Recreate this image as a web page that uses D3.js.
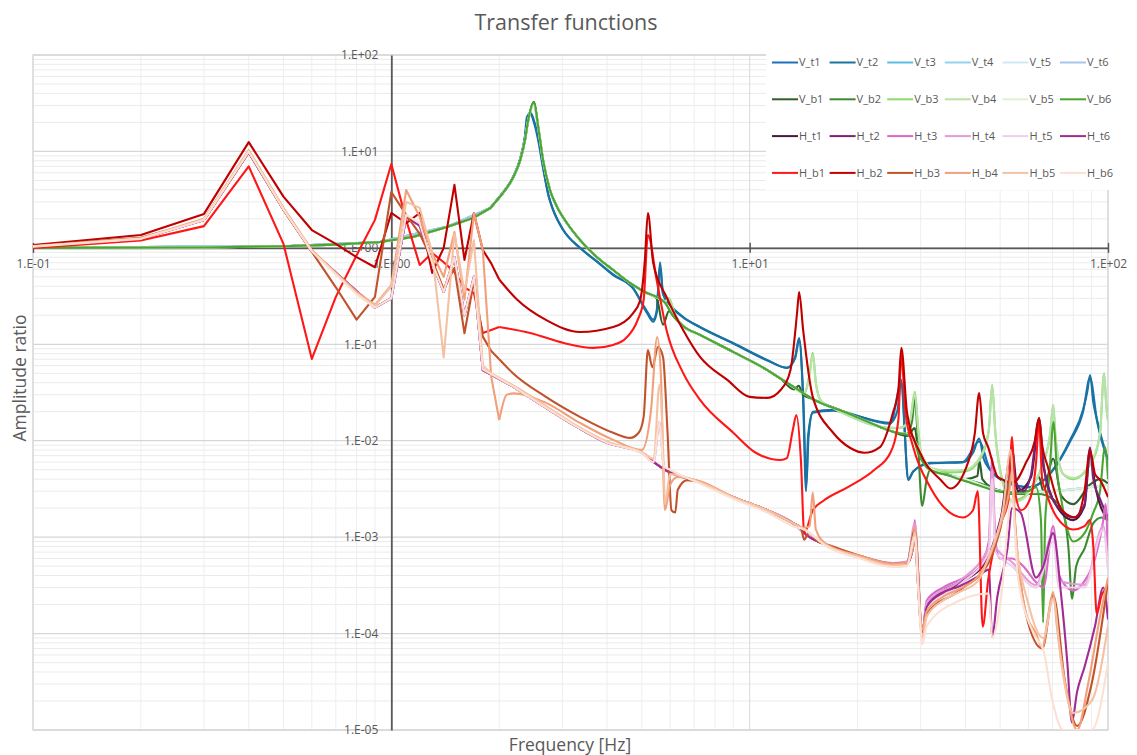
<!DOCTYPE html>
<html><head><meta charset="utf-8">
<script src="https://cdn.jsdelivr.net/npm/d3@7"></script>
<style>
body{margin:0;background:#fff;}
svg{display:block;font-family:"Open Sans","Liberation Sans",sans-serif;}
</style>
</head><body>
<svg id="chart" width="1137" height="755"></svg>
<script>
// ---- measured transfer functions: [frequency Hz, amplitude ratio] ----
const V_t1 = [[0.1,1.0],[0.5,1.04],[0.93,1.15],[1.43,1.65],[1.89,2.6],[2.05,3.75],[2.19,5.5],[2.29,8.4],[2.36,14],[2.40,22],[2.45,24],[2.5,20],[2.57,13],[2.65,6.8],[2.75,3.4],[2.83,2.45],[3.02,1.52],[3.36,1.0],[3.75,0.72],[4.16,0.53],[4.73,0.38],[5.17,0.22],[5.38,0.18],[5.5,0.22],[5.62,0.65],[5.73,0.33],[6.0,0.25],[6.52,0.19],[7.27,0.15],[9.0,0.102],[11.2,0.068],[12.7,0.057],[13.4,0.072],[13.74,0.11],[14.1,0.03],[14.4,0.0035],[14.6,0.011],[15.0,0.0195],[17.1,0.0205],[24.7,0.015],[26.5,0.04],[27.7,0.004],[28.6,0.0048],[31.9,0.0058],[39.4,0.006],[43.7,0.0098],[46.9,0.005],[54.3,0.0035],[60.6,0.0033],[70.3,0.005],[78.4,0.0098],[85.2,0.02],[89.1,0.045],[93.2,0.016],[100,0.0062]];
const V_t2 = [[0.1,1.0],[0.5,1.04],[0.93,1.15],[1.43,1.65],[1.89,2.6],[2.05,3.75],[2.19,5.5],[2.29,8.5],[2.36,14.5],[2.39,22.8],[2.45,25],[2.5,21],[2.57,14],[2.65,7.0],[2.75,3.4],[2.83,2.47],[3.02,1.53],[3.36,1.0],[3.75,0.72],[4.16,0.52],[4.73,0.38],[5.17,0.211],[5.38,0.171],[5.5,0.211],[5.62,0.71],[5.73,0.34],[6.0,0.256],[6.52,0.192],[7.27,0.151],[8.99,0.103],[11.18,0.0689],[12.72,0.0569],[13.39,0.074],[13.74,0.116],[14.09,0.0285],[14.37,0.003],[14.55,0.011],[15.03,0.0199],[17.1,0.0209],[20,0.018],[24.66,0.0153],[25.8,0.02],[26.5,0.0427],[27.0,0.015],[27.7,0.0039],[28.6,0.0048],[31.9,0.0059],[39.4,0.006],[42.0,0.0075],[43.7,0.0105],[45,0.0065],[46.9,0.005],[54.3,0.0035],[60.6,0.0033],[70.3,0.005],[78.4,0.0102],[85.2,0.0209],[87.5,0.032],[89.1,0.0481],[91,0.025],[93.2,0.0164],[100,0.0063]];
const V_t3 = [[0.1,1.0],[0.5,1.04],[0.93,1.15],[1.43,1.65],[1.89,2.59],[2.05,3.7],[2.19,5.4],[2.29,8.1],[2.36,13],[2.41,21],[2.5,31],[2.57,17.5],[2.65,8.1],[2.77,4.0],[2.9,2.66],[3.09,1.81],[3.36,1.21],[3.75,0.8],[4.16,0.59],[4.64,0.43],[5.17,0.34],[5.8,0.27],[6.52,0.155],[7.27,0.125],[9.0,0.083],[11.2,0.054],[13.6,0.034],[15.0,0.027],[18.7,0.0194],[23.1,0.0139],[25.1,0.0124],[28,0.0112],[31.9,0.0052],[40,0.004],[54,0.0029],[70,0.003],[100,0.0035]];
const V_t4 = [[0.1,1.0],[0.5,1.04],[0.93,1.15],[1.43,1.65],[1.89,2.59],[2.05,3.7],[2.19,5.4],[2.29,8.1],[2.36,13],[2.41,21],[2.5,31],[2.57,17.5],[2.65,8.1],[2.77,4.0],[2.9,2.66],[3.09,1.81],[3.36,1.21],[3.75,0.8],[4.16,0.59],[4.64,0.43],[5.17,0.34],[5.8,0.27],[6.52,0.155],[7.27,0.125],[9.0,0.083],[11.2,0.054],[13.6,0.034],[15.0,0.027],[18.7,0.0194],[23.1,0.0139],[25.1,0.0124],[28,0.0112],[31.9,0.0052],[40,0.004],[54,0.0029],[70,0.003],[100,0.0035]];
const V_t5 = [[0.1,1.0],[0.5,1.04],[0.93,1.15],[1.43,1.65],[1.89,2.59],[2.05,3.7],[2.19,5.4],[2.29,8.1],[2.36,13],[2.41,21],[2.5,31],[2.57,17.5],[2.65,8.1],[2.77,4.0],[2.9,2.66],[3.09,1.81],[3.36,1.21],[3.75,0.8],[4.16,0.59],[4.64,0.43],[5.17,0.34],[5.8,0.27],[6.52,0.155],[7.27,0.125],[9.0,0.083],[11.2,0.054],[13.6,0.034],[15.0,0.027],[18.7,0.0194],[23.1,0.0139],[25.1,0.0124],[28,0.0112],[31.9,0.0052],[40,0.004],[54,0.0029],[70,0.003],[100,0.0035]];
const V_t6 = [[0.1,1.0],[0.5,1.04],[0.93,1.15],[1.43,1.65],[1.89,2.59],[2.05,3.7],[2.19,5.4],[2.29,8.1],[2.36,13],[2.41,21],[2.5,31],[2.57,17.5],[2.65,8.1],[2.77,4.0],[2.9,2.66],[3.09,1.81],[3.36,1.21],[3.75,0.8],[4.16,0.59],[4.64,0.43],[5.17,0.34],[5.8,0.27],[6.52,0.155],[7.27,0.125],[9.0,0.083],[11.2,0.054],[13.6,0.034],[15.0,0.027],[18.7,0.0194],[23.1,0.0139],[25.1,0.0124],[28,0.0112],[31.9,0.0052],[40,0.004],[54,0.0029],[70,0.003],[100,0.0035]];

const V_b1 = [[0.1,1.0],[0.3,1.01],[0.5,1.04],[0.7,1.08],[0.93,1.15],[1.15,1.3],[1.43,1.65],[1.69,2.04],[1.89,2.59],[2.05,3.71],[2.19,5.43],[2.29,8.16],[2.36,13.2],[2.41,21.2],[2.5,32.6],[2.57,17.9],[2.65,8.2],[2.77,4.0],[2.9,2.66],[3.09,1.81],[3.36,1.21],[3.75,0.8],[4.16,0.59],[4.64,0.43],[5.17,0.34],[5.5,0.3],[5.73,0.16],[5.95,0.22],[6.52,0.152],[7.27,0.125],[8.99,0.0834],[11.2,0.054],[12.2,0.044],[13.3,0.034],[13.7,0.037],[14.1,0.03],[15.0,0.027],[18.7,0.0194],[23.1,0.0139],[25.1,0.0124],[27.5,0.0112],[28.9,0.0135],[29.6,0.0075],[31.9,0.0052],[35.6,0.0045],[40,0.004],[43.2,0.0043],[43.8,0.0062],[44.6,0.004],[49,0.0031],[54,0.0029],[60,0.003],[64.2,0.0042],[66,0.003],[70.3,0.0065],[74,0.0027],[80,0.0022],[89,0.0035],[95,0.004],[100,0.0036]];
const V_b2 = [[0.1,1.0],[0.3,1.01],[0.5,1.04],[0.7,1.08],[0.93,1.15],[1.15,1.3],[1.43,1.65],[1.69,2.04],[1.89,2.59],[2.05,3.71],[2.19,5.43],[2.29,8.16],[2.36,13.2],[2.41,21.2],[2.5,32.6],[2.57,17.9],[2.65,8.2],[2.77,4.0],[2.9,2.66],[3.09,1.81],[3.36,1.21],[3.75,0.8],[4.16,0.59],[4.64,0.43],[5.17,0.34],[5.5,0.31],[5.8,0.27],[6.1,0.2],[6.52,0.155],[7.27,0.125],[8.99,0.0834],[11.2,0.054],[12.2,0.044],[13.6,0.034],[15.0,0.027],[18.7,0.0194],[23.1,0.0139],[25.1,0.0124],[27.5,0.0118],[28.4,0.016],[28.9,0.0278],[29.4,0.012],[30.3,0.0021],[31.2,0.004],[31.9,0.005],[35.6,0.0044],[44,0.0036],[54,0.0028],[60,0.0028],[64,0.0028],[70,0.0025],[75,0.0018],[77.5,0.0008],[79.4,0.00023],[81.5,0.0005],[86,0.00076],[91,0.0014],[96,0.0016],[100,0.0015]];
const V_b3 = [[0.1,1.0],[0.3,1.01],[0.5,1.04],[0.7,1.08],[0.93,1.15],[1.15,1.3],[1.43,1.65],[1.69,2.04],[1.89,2.59],[2.05,3.71],[2.19,5.43],[2.29,8.16],[2.36,13.2],[2.41,21.2],[2.5,31],[2.57,17.9],[2.65,8.2],[2.77,4.0],[2.9,2.66],[3.09,1.81],[3.36,1.21],[3.75,0.8],[4.16,0.59],[4.64,0.43],[5.17,0.34],[5.5,0.31],[5.8,0.28],[5.95,0.3],[6.2,0.2],[6.52,0.155],[7.27,0.125],[8.99,0.0834],[11.2,0.054],[13.0,0.038],[14.2,0.031],[14.7,0.05],[15.0,0.0815],[15.3,0.04],[15.8,0.026],[17,0.022],[19,0.018],[23,0.014],[26,0.0135],[28,0.016],[28.9,0.0321],[29.6,0.012],[30.3,0.0063],[31.9,0.005],[36,0.0047],[40,0.0048],[44,0.0065],[46.5,0.013],[47.5,0.038],[48.5,0.012],[50,0.005],[54,0.0024],[58,0.0026],[62,0.0035],[66,0.006],[69,0.012],[70.3,0.0235],[71.5,0.01],[75,0.0045],[80,0.004],[90,0.006],[95,0.012],[97.5,0.05],[99,0.022],[100,0.0165]];
const V_b4 = [[0.1,1.0],[0.3,1.01],[0.5,1.04],[0.7,1.08],[0.93,1.15],[1.15,1.3],[1.43,1.65],[1.69,2.04],[1.89,2.59],[2.05,3.71],[2.19,5.43],[2.29,8.16],[2.36,13.2],[2.41,21.2],[2.5,30],[2.57,17.9],[2.65,8.2],[2.77,4.0],[2.9,2.66],[3.09,1.81],[3.36,1.21],[3.75,0.8],[4.16,0.59],[4.64,0.43],[5.17,0.34],[5.5,0.31],[5.8,0.28],[5.95,0.29],[6.2,0.2],[6.52,0.155],[7.27,0.125],[8.99,0.0834],[11.2,0.054],[13.0,0.038],[14.2,0.031],[14.7,0.048],[15.0,0.078],[15.3,0.04],[15.8,0.026],[17,0.022],[19,0.018],[23,0.014],[26,0.0135],[28,0.016],[28.9,0.031],[29.6,0.012],[30.3,0.0065],[31.9,0.0052],[36,0.0049],[40,0.005],[44,0.0068],[46.5,0.013],[47.5,0.037],[48.5,0.012],[50,0.0048],[54,0.0023],[58,0.0025],[62,0.0035],[66,0.0058],[69,0.012],[70.3,0.023],[71.5,0.01],[75,0.0045],[80,0.0041],[90,0.0062],[95,0.012],[97.5,0.049],[99,0.022],[100,0.016]];
const V_b5 = [[0.1,1.0],[0.3,1.01],[0.5,1.04],[0.7,1.08],[0.93,1.15],[1.15,1.3],[1.43,1.65],[1.69,2.04],[1.89,2.59],[2.05,3.71],[2.19,5.43],[2.29,8.16],[2.36,13.2],[2.41,21.2],[2.5,30],[2.57,17.9],[2.65,8.2],[2.77,4.0],[2.9,2.66],[3.09,1.81],[3.36,1.21],[3.75,0.8],[4.16,0.59],[4.64,0.43],[5.17,0.34],[5.8,0.27],[6.52,0.155],[7.27,0.125],[8.99,0.0834],[11.2,0.054],[13.6,0.034],[15.0,0.027],[18.7,0.0194],[23.1,0.0139],[25.1,0.0124],[28,0.0115],[31.9,0.0052],[40,0.004],[54,0.0029],[70,0.003],[100,0.0035]];
const V_b6 = [[0.1,1.0],[0.3,1.01],[0.5,1.04],[0.7,1.08],[0.93,1.15],[1.15,1.3],[1.43,1.65],[1.69,2.04],[1.89,2.59],[2.05,3.71],[2.19,5.43],[2.29,8.16],[2.36,13.2],[2.41,21.2],[2.5,32],[2.57,17.9],[2.65,8.2],[2.77,4.0],[2.9,2.66],[3.09,1.81],[3.36,1.21],[3.75,0.8],[4.16,0.59],[4.64,0.43],[5.17,0.34],[5.5,0.31],[5.8,0.27],[6.1,0.2],[6.52,0.155],[7.27,0.125],[8.99,0.0834],[11.2,0.054],[12.2,0.044],[13.6,0.034],[15.0,0.027],[18.7,0.0194],[23.1,0.0139],[25.1,0.0124],[27.5,0.0115],[28.5,0.011],[29.5,0.0075],[31.9,0.005],[35.6,0.0044],[40,0.0038],[44,0.0034],[49,0.003],[54,0.0029],[60,0.003],[63,0.0033],[65,0.0015],[65.9,0.00013],[66.8,0.0015],[68.5,0.004],[70.5,0.0157],[72,0.005],[74,0.0025],[77,0.0012],[80,0.0009],[86,0.0011],[91,0.0018],[95,0.003],[98.1,0.0086],[100,0.004]];

const H_t1 = [[0.1,1.03],[0.2,1.24],[0.3,1.95],[0.4,9.8],[0.5,2.5],[0.6,0.92],[0.9,0.24],[1.0,0.3],[1.1,2.1],[1.2,1.7],[1.3,0.7],[1.4,0.35],[1.5,0.8],[1.6,0.2],[1.7,0.5],[1.8,0.054],[2.2,0.036],[2.7,0.022],[3.3,0.0139],[4.0,0.0095],[5.0,0.0075],[5.8,0.005],[7.27,0.0037],[9,0.0026],[11.2,0.0019],[13.2,0.0014],[14.2,0.0011],[16.4,8.3e-4],[20.3,6.3e-4],[25.1,5.3e-4],[27.5,5.4e-4],[28.9,0.0012],[30.3,1.0e-4],[31.2,2e-4],[38.5,3.3e-4],[46,5.8e-4],[50,0.0014],[54,0.008],[56,0.003],[61,0.0042],[64.2,0.015],[66,0.0055],[74,0.0018],[80,0.0015],[86,0.0021],[89.1,0.0075],[92,0.0035],[100,0.0015]];
const H_t2 = [[0.1,1.03],[0.2,1.24],[0.3,1.95],[0.4,9.8],[0.5,2.5],[0.6,0.92],[0.9,0.24],[1.0,0.3],[1.1,2.1],[1.2,1.7],[1.3,0.7],[1.4,0.35],[1.5,0.8],[1.6,0.2],[1.7,0.5],[1.8,0.054],[2.2,0.036],[2.7,0.022],[3.3,0.0139],[4.0,0.0095],[5.0,0.0075],[5.4,0.006],[5.8,0.005],[7.27,0.0037],[9,0.0026],[11.2,0.0019],[13.2,0.0014],[13.7,0.0013],[14.2,0.0011],[14.7,0.001],[16.4,8.3e-4],[20.3,6.3e-4],[25.1,5.3e-4],[27.5,5.4e-4],[28.6,8e-4],[28.9,0.00125],[29.4,4e-4],[30.3,1.0e-4],[31.2,2e-4],[34.6,2.8e-4],[38.5,3.4e-4],[43,4.5e-4],[46,6e-4],[50,0.0015],[53,0.004],[54,0.009],[55,0.004],[58,0.003],[61,0.0045],[64.2,0.017],[66,0.006],[68,0.0033],[74,0.0019],[80,0.0016],[86,0.0022],[89.1,0.0085],[91,0.004],[95,0.0025],[100,0.0016]];
const H_t3 = [[0.1,1.03],[0.2,1.24],[0.3,1.95],[0.4,9.8],[0.5,2.5],[0.6,0.92],[0.9,0.24],[1.0,0.3],[1.1,2.1],[1.2,1.7],[1.3,0.7],[1.4,0.35],[1.5,0.8],[1.6,0.2],[1.7,0.5],[1.8,0.054],[2.2,0.036],[2.7,0.022],[3.3,0.0139],[4.0,0.0095],[5.0,0.0075],[5.4,0.006],[5.6,0.0157],[5.75,0.0055],[5.8,0.005],[7.27,0.0037],[9,0.0026],[11.2,0.0019],[13.2,0.0014],[13.7,0.0013],[14.2,0.0011],[14.7,0.001],[16.4,8.4e-4],[20.3,6.4e-4],[25.1,5.4e-4],[27.5,5.6e-4],[28.6,9e-4],[28.9,0.0015],[29.4,5e-4],[30.3,1.0e-4],[31.2,2.2e-4],[34.6,3e-4],[38.5,3.6e-4],[43.3,4.6e-4],[46.5,9e-4],[47.5,0.0066],[48.5,9e-4],[50,6e-4],[54,6e-4],[58,5e-4],[63,3.4e-4],[66,3e-4],[70.3,0.0013],[73,4e-4],[80,2.8e-4],[86,3.5e-4],[92,6e-4],[97,0.0015],[98.5,0.0022],[100,5.5e-4]];
const H_t4 = [[0.1,1.03],[0.2,1.24],[0.3,1.95],[0.4,9.8],[0.5,2.5],[0.6,0.92],[0.9,0.24],[1.0,0.3],[1.1,2.1],[1.2,1.7],[1.3,0.7],[1.4,0.35],[1.5,0.8],[1.6,0.2],[1.7,0.5],[1.8,0.054],[2.2,0.036],[2.7,0.022],[3.3,0.0139],[4.0,0.0095],[5.0,0.0075],[5.8,0.005],[7.27,0.0037],[9,0.0026],[11.2,0.0019],[13.2,0.0014],[14.2,0.0011],[16.4,8.4e-4],[20.3,6.4e-4],[25.1,5.4e-4],[27.5,5.5e-4],[28.9,0.0014],[30.3,1.0e-4],[31.2,2.1e-4],[38.5,3.5e-4],[46.5,8e-4],[47.5,0.005],[48.5,8e-4],[54,5.5e-4],[63,3.2e-4],[70.3,0.0011],[73,3.5e-4],[86,3.2e-4],[97,0.0013],[100,5e-4]];
const H_t5 = [[0.1,1.03],[0.2,1.24],[0.3,1.95],[0.4,9.8],[0.5,2.5],[0.6,0.92],[0.9,0.24],[1.0,0.3],[1.1,2.1],[1.2,1.7],[1.3,0.7],[1.4,0.35],[1.5,0.8],[1.6,0.2],[1.7,0.5],[1.8,0.054],[2.2,0.036],[2.7,0.022],[3.3,0.0139],[4.0,0.0095],[5.0,0.0075],[5.8,0.005],[7.27,0.0037],[9,0.0026],[11.2,0.0019],[13.2,0.0014],[14.2,0.0011],[16.4,8.3e-4],[20.3,6.2e-4],[25.1,5.2e-4],[27.5,5.3e-4],[28.9,0.0012],[30.3,9e-5],[31.2,1.9e-4],[38.5,3.2e-4],[46.5,7e-4],[47.5,0.004],[48.5,7e-4],[54,5e-4],[63,3e-4],[70.3,9e-4],[73,3e-4],[86,3e-4],[97,0.0012],[100,4.5e-4]];
const H_t6 = [[0.1,1.03],[0.2,1.24],[0.3,1.95],[0.4,9.8],[0.5,2.5],[0.6,0.92],[0.9,0.24],[1.0,0.3],[1.1,2.1],[1.2,1.7],[1.3,0.7],[1.4,0.35],[1.5,0.8],[1.6,0.2],[1.7,0.5],[1.8,0.054],[2.2,0.036],[2.7,0.022],[3.3,0.0139],[4.0,0.0095],[5.0,0.0075],[5.4,0.006],[5.8,0.005],[7.27,0.0037],[9,0.0026],[11.2,0.0019],[13.2,0.0014],[13.7,0.0013],[14.2,0.0011],[14.7,0.001],[16.4,8.3e-4],[20.3,6.2e-4],[25.1,5.2e-4],[27.5,5.4e-4],[28.6,8e-4],[28.9,0.0012],[29.4,4e-4],[30.3,1.0e-4],[31.2,1.9e-4],[34.6,2.65e-4],[38.5,3.1e-4],[43.3,3.9e-4],[46.5,4.6e-4],[47.5,9.3e-5],[49.1,2.4e-4],[52.4,7.6e-4],[54,0.002],[57,0.0018],[63,3.8e-4],[66,5e-4],[70.3,0.0011],[74,2.5e-4],[77,5e-5],[79.3,1.2e-5],[82,2.5e-5],[86,4.5e-5],[92,1.2e-4],[97,3e-4],[100,1.4e-4]];

const H_b1 = [[0.1,1.0],[0.2,1.19],[0.3,1.68],[0.4,7.0],[0.5,1.1],[0.6,0.0705],[0.7,0.31],[0.8,0.84],[0.9,1.95],[1.0,7.4],[1.1,1.95],[1.2,0.665],[1.3,0.885],[1.4,0.71],[1.5,0.56],[1.6,0.39],[1.7,0.34],[1.8,0.131],[1.9,0.141],[2.0,0.151],[2.44,0.131],[3.03,0.103],[3.66,0.0917],[4.16,0.0985],[4.52,0.116],[4.87,0.179],[5.06,0.288],[5.2,1.36],[5.5,0.465],[5.86,0.141],[6.52,0.0505],[7.27,0.0265],[9.0,0.0121],[10.4,0.0075],[12.2,0.0063],[12.7,0.0066],[13.2,0.013],[13.5,0.0185],[13.9,0.0063],[14.2,0.0011],[15.0,0.0019],[16.1,0.0024],[18.8,0.0033],[22.3,0.005],[24.7,0.0075],[26.0,0.0164],[26.5,0.0776],[27.2,0.02],[28.6,0.0086],[31.9,0.0033],[39.4,0.0016],[42.0,0.0019],[43.3,0.003],[44.7,1.18e-4],[46.3,3.6e-4],[48.0,7.6e-4],[50.2,0.0014],[52.7,0.0024],[54.0,0.011],[55,0.003],[57.2,0.0019],[60.6,0.0025],[63,0.006],[64.2,0.016],[65.5,0.004],[67,0.003],[72,0.0016],[80,0.0012],[86,0.0013],[89,0.0015],[91,0.0008],[93,1.6e-4],[96,2.5e-4],[100,3e-4]];
const H_b2 = [[0.1,1.07],[0.2,1.36],[0.3,2.25],[0.4,12.5],[0.5,3.4],[0.6,1.53],[0.7,1.1],[0.8,0.8],[0.9,0.63],[1.0,2.3],[1.1,1.8],[1.2,2.3],[1.3,0.55],[1.4,1.0],[1.5,4.5],[1.6,0.75],[1.7,2.3],[1.8,0.95],[1.9,0.69],[2.0,0.47],[2.25,0.288],[2.7,0.179],[3.36,0.134],[4.16,0.151],[4.73,0.211],[4.95,0.288],[5.1,0.75],[5.2,2.3],[5.38,0.7],[5.86,0.31],[6.52,0.141],[7.27,0.074],[8.66,0.0427],[10.0,0.0285],[11.2,0.0278],[12.2,0.0336],[13.0,0.0542],[13.56,0.211],[13.74,0.349],[14.1,0.141],[15.0,0.0285],[17.1,0.0121],[19.1,0.0084],[20.9,0.0075],[23.1,0.0086],[25.1,0.0194],[26.0,0.0336],[26.5,0.0917],[27.5,0.0194],[29.9,0.0075],[34.2,0.0039],[36.3,0.0032],[40.3,0.0054],[42.5,0.012],[43.7,0.0313],[44.8,0.012],[46.3,0.0086],[49.3,0.0042],[54.5,0.0037],[59.0,0.0059],[62.5,0.01],[64.2,0.0173],[65.5,0.009],[67.9,0.0054],[74.4,0.0019],[81.3,0.0016],[86,0.003],[89.1,0.008],[92,0.0045],[95.1,0.0039],[100,0.0026]];
const H_b3 = [[0.1,1.05],[0.2,1.27],[0.3,1.95],[0.4,9.9],[0.5,2.47],[0.6,0.91],[0.7,0.39],[0.8,0.18],[0.9,0.31],[1.0,3.8],[1.1,2.2],[1.2,1.4],[1.3,0.75],[1.4,0.37],[1.5,0.62],[1.6,0.13],[1.7,0.45],[1.8,0.12],[1.9,0.085],[2.0,0.07],[2.18,0.0505],[2.7,0.0285],[3.36,0.0177],[4.16,0.0121],[4.64,0.0107],[4.9,0.0121],[5.06,0.0177],[5.2,0.087],[5.35,0.058],[5.55,0.094],[5.73,0.074],[5.9,0.0121],[6.05,0.0019],[6.2,0.0018],[6.3,0.0031],[6.7,0.0039],[7.27,0.0037],[9.0,0.0026],[11.2,0.0019],[13.2,0.0014],[13.9,0.00125],[14.2,9.4e-4],[14.6,0.0011],[15.5,9e-4],[16.4,8.4e-4],[20.3,6.4e-4],[25.1,5.3e-4],[27.5,5.4e-4],[28.9,0.0012],[30.3,1.05e-4],[31.2,1.6e-4],[38.5,2.8e-4],[46.5,5.5e-4],[50,0.0012],[54,0.0045],[55,0.0014],[59,1.6e-4],[65.6,7e-5],[70.3,2.5e-4],[76,3e-5],[82,1.1e-5],[90,3e-5],[100,3.5e-4]];
const H_b4 = [[0.1,1.04],[0.2,1.26],[0.3,2.0],[0.4,10.3],[0.5,2.6],[0.6,0.95],[0.7,0.55],[0.8,0.35],[0.9,0.256],[1.0,0.41],[1.1,3.98],[1.2,2.1],[1.3,0.88],[1.4,0.5],[1.5,1.46],[1.6,0.29],[1.7,2.3],[1.8,0.95],[1.9,0.046],[2.0,0.0164],[2.1,0.03],[2.2,0.031],[2.7,0.0247],[3.36,0.0153],[4.16,0.0102],[5.0,0.008],[5.3,0.02],[5.52,0.119],[5.65,0.05],[5.8,0.0019],[6.0,0.0035],[6.3,0.0042],[7.27,0.0038],[9,0.0026],[11.2,0.0019],[13.2,0.0014],[14.2,0.00125],[14.7,0.0013],[15.0,0.0029],[15.3,0.0012],[16.4,8.4e-4],[20.3,6.4e-4],[25.1,5.3e-4],[27.5,5.5e-4],[28.6,8e-4],[28.9,0.0013],[29.4,4e-4],[30.3,1.1e-4],[31.2,1.7e-4],[34.6,2.4e-4],[38.5,2.9e-4],[43.3,3.9e-4],[46.5,6e-4],[50,0.0013],[53,0.003],[54,0.005],[55,0.0015],[59,1.64e-4],[63,1e-4],[65.6,7.1e-5],[68,1.5e-4],[70.3,2.7e-4],[72,1.2e-4],[76,3e-5],[82,1e-5],[88,3e-5],[95,1.5e-4],[100,3.8e-4]];
const H_b5 = [[0.1,1.04],[0.2,1.25],[0.3,1.97],[0.4,10.0],[0.5,2.55],[0.6,0.93],[0.7,0.54],[0.8,0.34],[0.9,0.25],[1.0,0.4],[1.1,3.0],[1.2,2.6],[1.3,0.9],[1.4,0.073],[1.5,1.4],[1.6,0.35],[1.7,1.2],[1.8,0.06],[1.9,0.05],[2.0,0.045],[2.2,0.037],[2.7,0.023],[3.3,0.0142],[4.0,0.0098],[5.0,0.0076],[5.4,0.0065],[5.6,0.038],[5.75,0.006],[5.8,0.0022],[6.0,0.0045],[7.27,0.0037],[9,0.0026],[11.2,0.0019],[13.2,0.0014],[14.2,0.0012],[16.4,8.2e-4],[20.3,6.2e-4],[25.1,5.1e-4],[27.5,5.2e-4],[28.9,0.0011],[29.6,3e-4],[30.3,9e-5],[31.2,1.5e-4],[34.6,2.2e-4],[38.5,2.7e-4],[43.3,3.5e-4],[47,7e-4],[51,0.002],[53.5,0.008],[55,0.0012],[60,2e-4],[66,9e-5],[70.3,2.3e-4],[74,5e-5],[80,1.5e-5],[90,2e-5],[100,1.2e-4]];
const H_b6 = [[0.1,1.03],[0.2,1.24],[0.3,1.95],[0.4,10.0],[0.5,2.5],[0.6,0.92],[0.7,0.53],[0.8,0.33],[0.9,0.24],[1.0,0.3],[1.1,2.2],[1.2,1.8],[1.3,0.7],[1.4,0.35],[1.5,0.8],[1.6,0.2],[1.7,0.5],[1.8,0.055],[2.2,0.036],[2.7,0.022],[3.3,0.0139],[4.0,0.0095],[5.0,0.0074],[5.4,0.006],[5.6,0.0157],[5.75,0.0055],[6.0,0.005],[7.27,0.0036],[9,0.0025],[11.2,0.0018],[13.2,0.0013],[14.2,0.0012],[16.4,8e-4],[20.3,6e-4],[25.1,4.9e-4],[27.5,5e-4],[28.9,0.001],[29.6,2.5e-4],[30.3,7.7e-5],[31.2,1.2e-4],[38.5,2.2e-4],[46.5,2.6e-4],[47.5,9e-5],[50,2e-4],[54,0.0025],[56,4e-4],[62,1e-4],[66,6.8e-5],[70,2e-5],[75,1e-5],[90,1e-5],[100,5e-5]];

const seriesNames = ["V_t1","V_t2","V_t3","V_t4","V_t5","V_t6",
                     "V_b1","V_b2","V_b3","V_b4","V_b5","V_b6",
                     "H_t1","H_t2","H_t3","H_t4","H_t5","H_t6",
                     "H_b1","H_b2","H_b3","H_b4","H_b5","H_b6"];
const seriesData = [V_t1,V_t2,V_t3,V_t4,V_t5,V_t6,V_b1,V_b2,V_b3,V_b4,V_b5,V_b6,
                    H_t1,H_t2,H_t3,H_t4,H_t5,H_t6,H_b1,H_b2,H_b3,H_b4,H_b5,H_b6];
const seriesColors = ["#1f6fbf","#18739e","#5bbde6","#93d2ef","#cfe9f6","#a6c6ea",
                      "#2f5f2b","#3b8a2f","#8fd870","#b6e3a6","#dbf3d3","#4aa532",
                      "#4b1741","#7c2173","#d968c7","#e39bd8","#f1cdeb","#a02c93",
                      "#ff1717","#c00000","#c0532b","#f0a07a","#f6c1a3","#fbe1d3"];

const xTickValues = [0.1, 1, 10, 100];
const yTickValues = [1e-5, 1e-4, 1e-3, 1e-2, 1e-1, 1, 10, 100];
const tickLabel = v => "1.E" + (Math.log10(v) < 0 ? "-" : "+") + String(Math.abs(Math.round(Math.log10(v)))).padStart(2, "0");

// ---- layout ----
const svg = d3.select("#chart");
const L = 33, R = 1108, T = 55, B = 730;
const x = d3.scaleLog().domain([0.1, 100]).range([L, R]);
const y = d3.scaleLog().domain([1e-5, 100]).range([B, T]);
const txt = "#595959";

// minor / major grid positions within each decade
const xMinor = [], yMinor = [];
[0.1, 1, 10].forEach(d => { for (let k = 2; k <= 9; k++) xMinor.push(k * d); });
[1e-5, 1e-4, 1e-3, 1e-2, 1e-1, 1, 10].forEach(d => { for (let k = 2; k <= 9; k++) yMinor.push(k * d); });

const grid = svg.append("g");
grid.selectAll(".xm").data(xMinor).join("line")
  .attr("x1", d => x(d)).attr("x2", d => x(d)).attr("y1", T).attr("y2", B)
  .attr("stroke", "#eeeeee").attr("stroke-width", 1);
grid.selectAll(".ym").data(yMinor).join("line")
  .attr("x1", L).attr("x2", R).attr("y1", d => y(d)).attr("y2", d => y(d))
  .attr("stroke", "#ebebeb").attr("stroke-width", 1);
grid.selectAll(".xM").data(xTickValues).join("line")
  .attr("x1", d => x(d)).attr("x2", d => x(d)).attr("y1", T).attr("y2", B)
  .attr("stroke", "#d9d9d9").attr("stroke-width", 1);
grid.selectAll(".yM").data(yTickValues).join("line")
  .attr("x1", L).attr("x2", R).attr("y1", d => y(d)).attr("y2", d => y(d))
  .attr("stroke", "#d6d6d6").attr("stroke-width", 1.3);
grid.append("rect").attr("x", L).attr("y", T).attr("width", R - L).attr("height", B - T)
  .attr("fill", "none").attr("stroke", "#d9d9d9").attr("stroke-width", 1.3);

// axes crossing at (1 Hz, 1)
const xAxis = d3.axisBottom(x).tickValues(xTickValues).tickFormat(tickLabel).tickSize(0).tickPadding(12);
const gx = svg.append("g").attr("transform", `translate(0,${y(1)})`).call(xAxis);
gx.select(".domain").attr("stroke", txt).attr("stroke-width", 1.8);
gx.selectAll("text").attr("fill", txt).style("font-size", "12px").style("font-family", '"Open Sans",sans-serif');
gx.selectAll(".tick").append("line").attr("y1", -5).attr("y2", 5).attr("stroke", txt).attr("stroke-width", 1.5);

const yAxis = d3.axisLeft(y).tickValues(yTickValues).tickFormat(tickLabel).tickSize(0).tickPadding(13);
const gy = svg.append("g").attr("transform", `translate(${x(1)},0)`).call(yAxis);
gy.select(".domain").attr("stroke", txt).attr("stroke-width", 1.8);
gy.selectAll("text").attr("fill", txt).style("font-size", "12px").style("font-family", '"Open Sans",sans-serif');

// ---- series ----
// coarse 0.1 Hz steps below 2 Hz are drawn straight; the resonant part above is smoothed
svg.append("clipPath").attr("id", "plotclip").append("rect")
  .attr("x", L).attr("y", T).attr("width", R - L).attr("height", B - T);
const lineLow = d3.line().x(d => x(d[0])).y(d => y(d[1]));
const lineHigh = d3.line().x(d => x(d[0])).y(d => y(d[1])).curve(d3.curveMonotoneX);
const gs = svg.append("g").attr("clip-path", "url(#plotclip)");
seriesData.forEach((data, i) => {
  const k = data.findIndex(d => d[0] >= 2);
  const g = gs.append("g").attr("fill", "none").attr("stroke", seriesColors[i])
    .attr("stroke-width", 2.1).attr("stroke-linejoin", "round");
  g.append("path").datum(data.slice(0, k + 1)).attr("d", lineLow);
  g.append("path").datum(data.slice(k)).attr("d", lineHigh);
});

// ---- legend ----
const lg = svg.append("g");
lg.append("rect").attr("x", 766).attr("y", 44).attr("width", 371).attr("height", 146).attr("fill", "#fff");
seriesNames.forEach((name, i) => {
  const c = i % 6, r = Math.floor(i / 6);
  const lx = 772 + c * 57.6, ly = 62.5 + r * 36.8;
  lg.append("line").attr("x1", lx).attr("x2", lx + 26).attr("y1", ly).attr("y2", ly)
    .attr("stroke", seriesColors[i]).attr("stroke-width", 2);
  lg.append("text").attr("x", lx + 27).attr("y", ly).attr("dy", "0.35em")
    .attr("fill", txt).style("font-size", "11px").text(name);
});

// ---- titles ----
svg.append("text").attr("x", 566).attr("y", 30).attr("text-anchor", "middle")
  .attr("fill", txt).style("font-size", "21.5px").text("Transfer functions");
svg.append("text").attr("x", 570).attr("y", 751).attr("text-anchor", "middle")
  .attr("fill", txt).style("font-size", "17.5px").text("Frequency [Hz]");
svg.append("text").attr("transform", "translate(26,378) rotate(-90)").attr("text-anchor", "middle")
  .attr("fill", txt).style("font-size", "17.5px").text("Amplitude ratio");
</script>
</body></html>
